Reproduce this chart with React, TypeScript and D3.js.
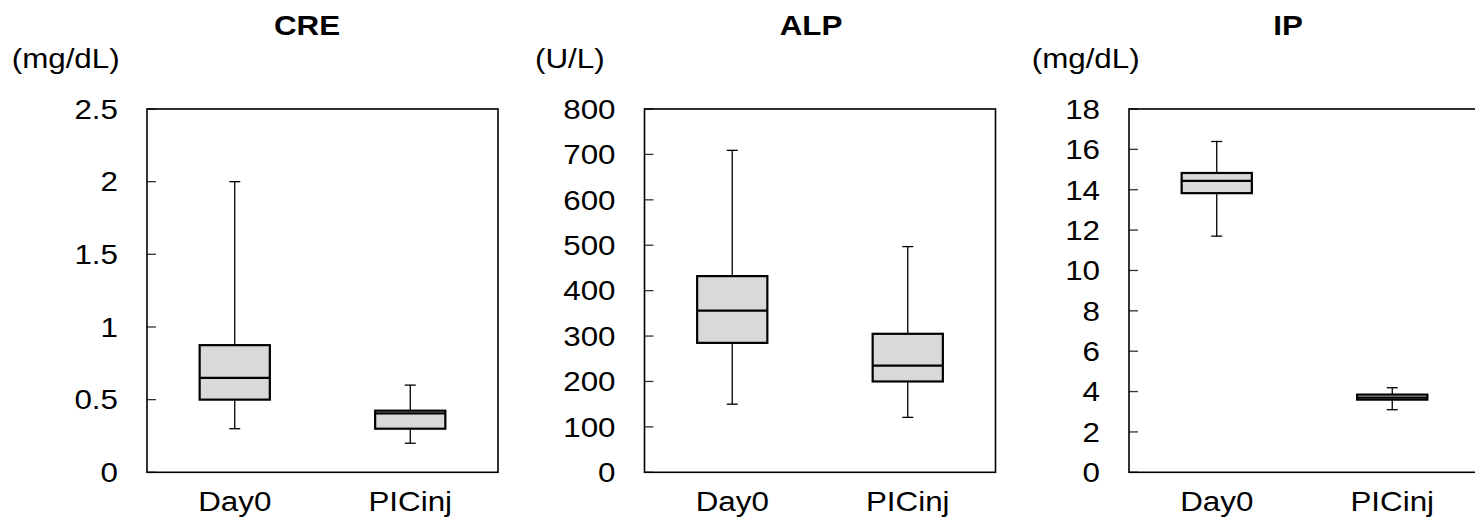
import React from "react";
import * as d3 from "d3";

const categories = ["Day0", "PICinj"];
const panelTitles = ["CRE", "ALP", "IP"];
const unitLabels = ["(mg/dL)", "(U/L)", "(mg/dL)"];
const yMax = [2.5, 800, 18];
const yTicks = [
  [0, 0.5, 1, 1.5, 2, 2.5],
  [0, 100, 200, 300, 400, 500, 600, 700, 800],
  [0, 2, 4, 6, 8, 10, 12, 14, 16, 18],
];
// five-number summaries [min, q1, median, q3, max] per category
const creStats = [
  [0.3, 0.5, 0.65, 0.875, 2.0],
  [0.2, 0.3, 0.405, 0.424, 0.6],
];
const alpStats = [
  [150, 285, 356, 432, 709],
  [121, 200, 235, 305, 497],
];
const ipStats = [
  [11.7, 13.83, 14.44, 14.83, 16.39],
  [3.1, 3.6, 3.7, 3.85, 4.19],
];
const allStats = [creStats, alpStats, ipStats];

// layout
const panelLeft = [147, 644.5, 1129];
const plotW = 351;
const plotTop = 109;
const plotBottom = 472.3;
const titleX = [307, 811, 1288];
const unitX = [11.7, 535, 1031.7];
const FONT = "Liberation Sans, Arial, sans-serif";
const SX = 1.14;
const FS = 27.5;

function Txt({ x, y, anchor = "start", bold = false, children }: any) {
  return (
    <g transform={`translate(${x},${y}) scale(${SX},1)`}>
      <text
        x={0}
        y={0}
        textAnchor={anchor}
        fontFamily={FONT}
        fontSize={FS}
        fontWeight={bold ? "bold" : "normal"}
        fill="#000"
      >
        {children}
      </text>
    </g>
  );
}

function Panel({ i }: { i: number }) {
  const left = panelLeft[i];
  const x = d3
    .scaleBand()
    .domain(categories)
    .range([left, left + plotW])
    .paddingInner(0)
    .paddingOuter(0);
  const y = d3.scaleLinear().domain([0, yMax[i]]).range([plotBottom, plotTop]);
  const boxW = plotW * 0.2;
  const capW = 11;
  const stats = allStats[i];
  return (
    <g>
      <Txt x={titleX[i]} y={35} bold anchor="middle">
        {panelTitles[i]}
      </Txt>
      <Txt x={unitX[i]} y={68}>
        {unitLabels[i]}
      </Txt>
      {yTicks[i].map((t) => (
        <g key={t}>
          <line
            x1={left}
            x2={left + 9}
            y1={y(t)}
            y2={y(t)}
            stroke="#333"
            strokeWidth={1.3}
          />
          <Txt x={left - 29} y={y(t) + 9.8} anchor="end">
            {String(t)}
          </Txt>
        </g>
      ))}
      {categories.map((c, j) => {
        const cx = (x(c) as number) + x.bandwidth() / 2;
        const [mn, q1, md, q3, mx] = stats[j];
        return (
          <g key={c}>
            <line x1={cx} x2={cx} y1={y(mx)} y2={y(q3)} stroke="#000" strokeWidth={1.3} />
            <line x1={cx} x2={cx} y1={y(q1)} y2={y(mn)} stroke="#000" strokeWidth={1.3} />
            <line x1={cx - capW / 2} x2={cx + capW / 2} y1={y(mx)} y2={y(mx)} stroke="#000" strokeWidth={1.3} />
            <line x1={cx - capW / 2} x2={cx + capW / 2} y1={y(mn)} y2={y(mn)} stroke="#000" strokeWidth={1.3} />
            <rect
              x={cx - boxW / 2}
              y={y(q3)}
              width={boxW}
              height={y(q1) - y(q3)}
              fill="#d9d9d9"
              stroke="#000"
              strokeWidth={2.2}
            />
            <line x1={cx - boxW / 2} x2={cx + boxW / 2} y1={y(md)} y2={y(md)} stroke="#000" strokeWidth={2.2} />
            <Txt x={cx} y={511} anchor="middle">
              {c}
            </Txt>
          </g>
        );
      })}
      <rect
        x={left}
        y={plotTop}
        width={plotW}
        height={plotBottom - plotTop}
        fill="none"
        stroke="#000"
        strokeWidth={1.6}
      />
    </g>
  );
}

export default function App() {
  return (
    <svg
      width={1475}
      height={528}
      style={{ position: "absolute", left: 0, top: 0, background: "#fff" }}
    >
      <rect x={0} y={0} width={1475} height={528} fill="#fff" />
      {[0, 1, 2].map((i) => (
        <Panel key={i} i={i} />
      ))}
    </svg>
  );
}
